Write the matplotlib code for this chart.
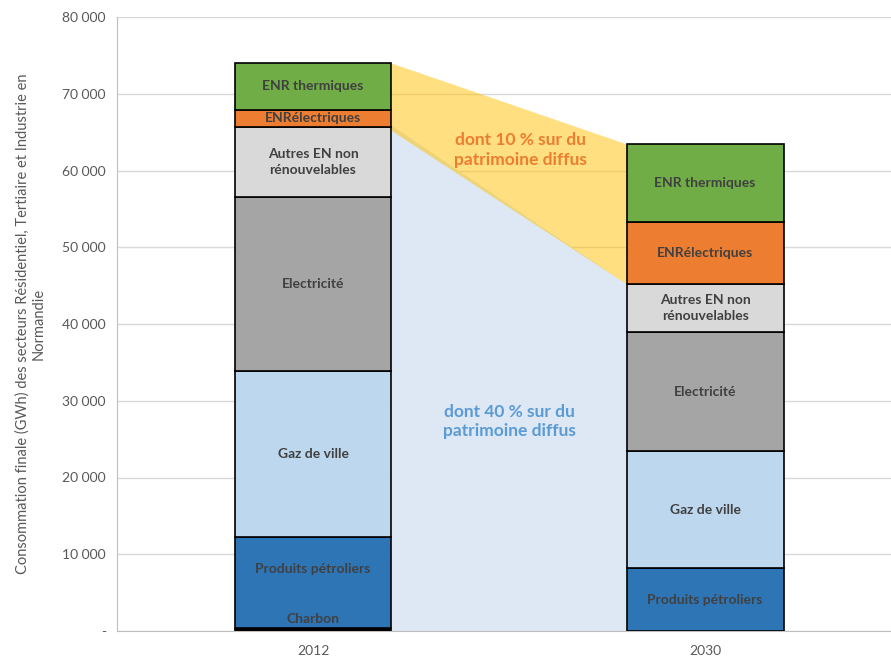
import numpy as np
import matplotlib.pyplot as plt
from matplotlib.ticker import FuncFormatter

years = ["2012", "2030"]
sources = ["Charbon", "Produits pétroliers", "Gaz de ville", "Electricité",
           "Autres EN non\nrénouvelables", "ENRélectriques", "ENR thermiques"]
values_2012 = [400, 11850, 21650, 22600, 9200, 2200, 6100]
values_2030 = [0, 8200, 15250, 15500, 6250, 8100, 10150]
colors = ["#000000", "#2E75B6", "#BDD7EE", "#A5A5A5", "#D9D9D9", "#ED7D31", "#70AD47"]

# shifts for labels that Excel moved by hand (thin segments)
label_shift_2012 = [1300, 1800, 0, 0, 0, 0, 0]

# transition bands between the bars
yellow_2012 = [74000, 65200]
yellow_2030 = [63450, 45200]
blue_2012 = [65900, 0]
blue_2030 = [45200, 0]

plt.rcParams['font.family'] = ['Lato', 'DejaVu Sans']
text_col = "#404040"

fig = plt.figure(figsize=(8.91, 6.57), dpi=100)
ax = fig.add_axes([117 / 891, 26 / 657, 1 - 117 / 891, 614 / 657])

x = np.arange(len(years))
width = 0.4
edge_x = [x[0] + width / 2, x[1] - width / 2]

ax.fill_between(edge_x, [blue_2012[1], blue_2030[1]], [blue_2012[0], blue_2030[0]],
                color="#DDE8F4", lw=0, zorder=1)
ax.fill_between(edge_x, [yellow_2012[1], yellow_2030[1]], [yellow_2012[0], yellow_2030[0]],
                color="#FFC000", alpha=0.5, lw=0, zorder=1.5)

data = [values_2012, values_2030]
for i, vals in enumerate(data):
    bottom = 0
    for j, v in enumerate(vals):
        if v <= 0:
            continue
        ax.bar(x[i], v, width, bottom=bottom, color=colors[j], edgecolor="black",
               linewidth=1.2, zorder=3)
        ymid = bottom + v / 2
        if i == 0:
            ymid += label_shift_2012[j]
        ax.text(x[i], ymid, sources[j], ha="center", va="center", fontsize=10,
                fontweight="bold", color=text_col, zorder=4, linespacing=1.35)
        bottom += v

ax.text(0.528, 62700, "dont 10 % sur du\npatrimoine diffus", ha="center", va="center",
        fontsize=12.5, fontweight="bold", color="#ED7D31", zorder=2, linespacing=1.3)
ax.text(0.50, 27300, "dont 40 % sur du\npatrimoine diffus", ha="center", va="center",
        fontsize=12.5, fontweight="bold", color="#5B9BD5", zorder=2, linespacing=1.3)

ax.set_xlim(-0.5, 1.474)
ax.set_ylim(0, 80000)
ax.set_yticks(np.arange(0, 80001, 10000))
ax.yaxis.set_major_formatter(FuncFormatter(
    lambda v, p: "-" if v == 0 else f"{int(v):,}".replace(",", " ")))
ax.set_xticks(x)
ax.set_xticklabels(years)
ax.grid(axis="y", color="#D9D9D9", linewidth=1, zorder=0)
ax.set_axisbelow(True)
ax.tick_params(axis="both", length=0, labelsize=10, colors="#595959", pad=8)
ax.tick_params(axis="x", pad=10)
for s in ["top", "right"]:
    ax.spines[s].set_visible(False)
for s in ["left", "bottom"]:
    ax.spines[s].set_color("#BFBFBF")

ax.set_ylabel("Consommation finale (GWh) des secteurs Résidentiel, Tertiaire et Industrie en\nNormandie",
              fontsize=10.5, color="#595959", labelpad=12)

fig.savefig("out.png", dpi=100)
